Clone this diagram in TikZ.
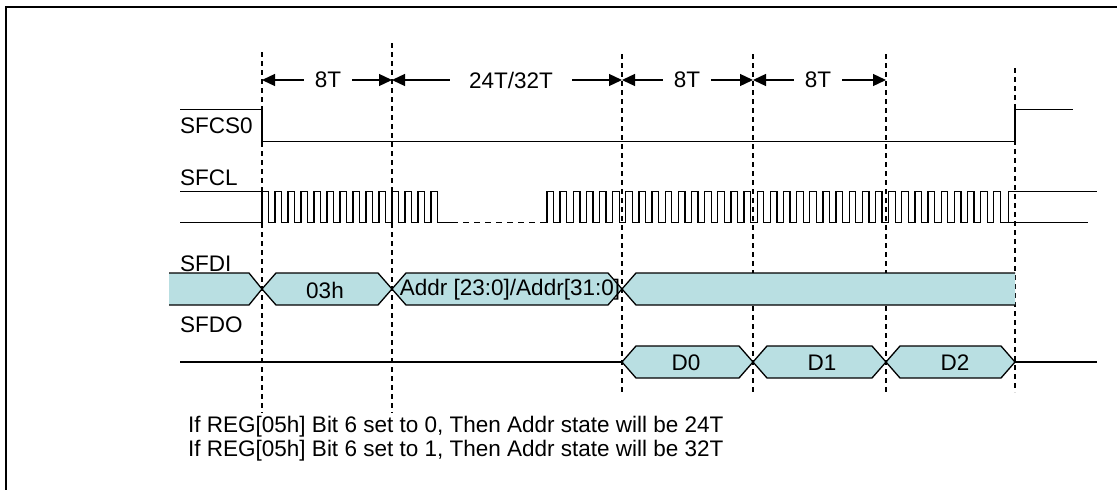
\documentclass[tikz,border=0pt]{standalone}
\usepackage{fontspec}
\setmainfont{Liberation Sans}
\usetikzlibrary{arrows.meta}
\definecolor{busfill}{HTML}{B9DFE2}
\newcommand\sigfont{\fontsize{22.5}{24}\selectfont}
\tikzset{
    sigline/.style={line width=1.3pt,line join=miter},
    guide/.style={line width=1.2pt,dash pattern=on 5pt off 4pt},
    busbox/.style={fill=busfill,draw=black,line width=1.3pt},
    siglabel/.style={anchor=west,inner sep=0pt,font=\sigfont},
    buslabel/.style={inner sep=0pt,font=\sigfont},
    spanlabel/.style={inner sep=0pt,font=\sigfont,minimum height=14pt},
    spanarrow/.style={-{Triangle[length=13pt,width=12pt]},line width=1.3pt}
}
% one hexagon of a bus: x left, x right, y top, y bottom
\newcommand\busseg[4]{%
  \filldraw[busbox] (#1,{(#3+#4)/2}) -- ({#1+14},#3) -- ({#2-14},#3) -- (#2,{(#3+#4)/2})
    -- ({#2-14},#4) -- ({#1+14},#4) -- cycle;}

\begin{document}
\begin{tikzpicture}[x=1pt,y=-1pt]
  \useasboundingbox (0,0) rectangle (1117,490);
  \draw[line width=1.5pt] (6,490) -- (6,7) -- (1117,7);

  % guides
  \foreach \x/\yt/\yb [count=\i] in {262/52/413,392/43/413,622/54/395,753/54/395,886/54/395,1015/68/392}{
    \coordinate (g\i) at (\x,\yt);
    \coordinate (g\i b) at (\x,\yb);
    \draw[guide] (g\i) -- (g\i b);}

  % spans
  \coordinate (s1) at (262,80);
  \coordinate (s2) at (392,80);
  \coordinate (s3) at (622,80);
  \coordinate (s4) at (753,80);
  \coordinate (s5) at (886,80);
  \node[spanlabel,minimum width=48pt] (t1) at (328,80) {8T};
  \node[spanlabel,minimum width=122pt] (t2) at (511,80) {24T/32T};
  \node[spanlabel,minimum width=48pt] (t3) at (687,80) {8T};
  \node[spanlabel,minimum width=48pt] (t4) at (818,80) {8T};
  \foreach \t/\a/\b in {t1/s1/s2,t2/s2/s3,t3/s3/s4,t4/s4/s5}{
    \draw[spanarrow] (\t.west) -- (\a);
    \draw[spanarrow] (\t.east) -- (\b);}

  % signal names
  \node[siglabel] (cs) at (180,126) {SFCS0};
  \node[siglabel] (cl) at (180,178) {SFCL};
  \node[siglabel] (di) at (180,264) {SFDI};
  \node[siglabel] (do) at (180,325) {SFDO};

  % SFCS0
  \draw[sigline] (180,109.5) -- (262,109.5) -- (262,141.7) -- (1015,141.7) -- (1015,109.5) -- (1073,109.5);

  % SFCL
  \draw[sigline] (180,191.7) -- (262,191.7);
  \draw[sigline] (180,222.7) -- (262,222.7);
  \foreach \k in {0,...,13}{
    \draw[sigline] ({262+13*\k},222.7) -- ++(0,-31) -- ++(6.5,0) -- ++(0,31) -- ++(6.5,0);}
  \draw[sigline] (444,222.7) -- (452,222.7);
  \draw[line width=1.3pt,dash pattern=on 6pt off 5pt] (452,222.7) -- (547,222.7);
  \foreach \k in {0,...,34}{
    \draw[sigline] ({547+13.14*\k},222.7) -- ++(0,-31) -- ++(6.57,0) -- ++(0,31) -- ++(6.57,0);}
  \draw[sigline] (1006.9,222.7) -- (1088,222.7);
  \draw[sigline] (1008.5,222.7) -- (1008.5,191.7) -- (1097,191.7);

  % SFDI
  \fill[busfill] (169,273) -- (249,273) -- (262,289) -- (249,305) -- (169,305) -- cycle;
  \draw[sigline] (169,273) -- (249,273) -- (262,289) -- (249,305) -- (169,305);
  \busseg{262}{392}{273}{305}
  \busseg{392}{622}{273}{305}
  \fill[busfill] (622,289) -- (636,273) -- (1015,273) -- (1015,305) -- (636,305) -- cycle;
  \draw[sigline] (1015,273) -- (636,273) -- (622,289) -- (636,305) -- (1015,305);
  \node[buslabel] (dcmd) at (325,290) {03h};
  \node[buslabel] (dadr) at (510,290) {Addr [23:0]/Addr[31:0]};

  % SFDO
  \draw[sigline] (180,362) -- (622,362);
  \busseg{622}{753}{346}{378}
  \busseg{753}{886}{346}{378}
  \busseg{886}{1015}{346}{378}
  \draw[sigline] (1015,362) -- (1097,362);
  \node[buslabel] (q0) at (686,363) {D0};
  \node[buslabel] (q1) at (822,363) {D1};
  \node[buslabel] (q2) at (955,363) {D2};

  % notes
  \node[siglabel] (n1) at (188,427) {If REG[05h] Bit 6 set to 0, Then Addr state will be 24T};
  \node[siglabel] (n2) at (188,451) {If REG[05h] Bit 6 set to 1, Then Addr state will be 32T};
\end{tikzpicture}
\end{document}
